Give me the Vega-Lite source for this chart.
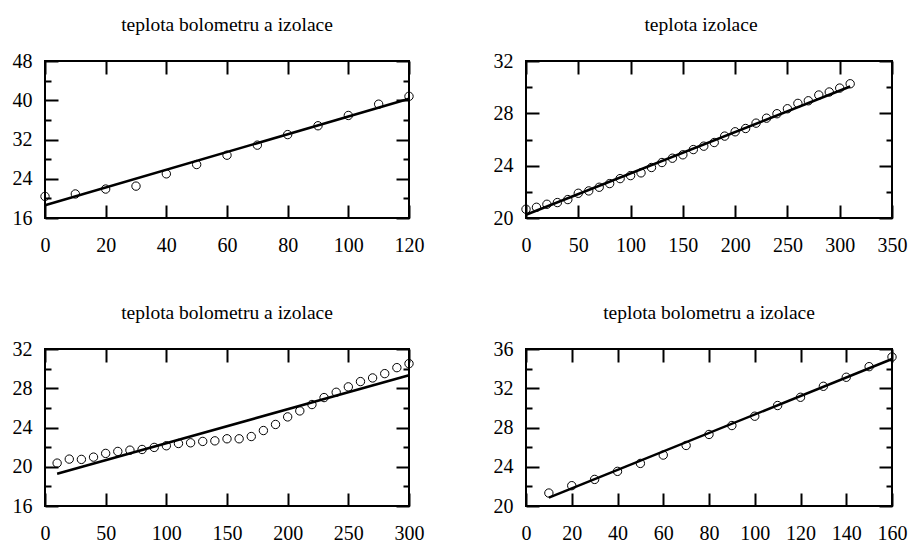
{
  "$schema": "https://vega.github.io/schema/vega-lite/v6.json",
  "background": "white",
  "padding": {"left": 11, "top": 13, "right": 5, "bottom": 5},
  "columns": 2,
  "spacing": {"row": 131, "column": 117},
  "bounds": "flush",
  "config": {
    "view": {"stroke": "black", "strokeWidth": 2},
    "font": "Liberation Serif, DejaVu Serif, serif",
    "title": {"font": "Liberation Serif, DejaVu Serif, serif", "fontSize": 19.5, "fontWeight": "normal", "color": "black", "baseline": "alphabetic", "offset": 16, "frame": "group", "anchor": "middle"},
    "axis": {"domain": false, "grid": false, "labelFont": "Liberation Serif, DejaVu Serif, serif", "labelFontSize": 20, "labelColor": "black", "tickColor": "black", "tickWidth": 2, "tickSize": 13, "offset": -13, "title": null, "labelFlush": false, "labelOverlap": false},
    "point": {"shape": "circle", "filled": false, "stroke": "black", "strokeWidth": 1, "size": 70, "opacity": 1},
    "line": {"color": "black", "strokeWidth": 2.5}
  },
  "concat": [
    {
      "width": 364, "height": 157,
      "title": {"text": "teplota bolometru a izolace"},
      "layer": [
        {
          "data": {"values": [
            {"x": 0, "y": 20.4}, {"x": 10, "y": 20.9}, {"x": 20, "y": 21.9}, {"x": 30, "y": 22.5},
            {"x": 40, "y": 25.0}, {"x": 50, "y": 26.9}, {"x": 60, "y": 28.8}, {"x": 70, "y": 30.85},
            {"x": 80, "y": 33.0}, {"x": 90, "y": 34.8}, {"x": 100, "y": 36.9}, {"x": 110, "y": 39.2},
            {"x": 120, "y": 40.8}
          ]},
          "mark": {"type": "point"},
          "encoding": {
            "x": {"field": "x", "type": "quantitative", "scale": {"domain": [0, 120], "nice": false, "zero": false},
                  "axis": {"orient": "bottom", "values": [0, 20, 40, 60, 80, 100, 120], "labelPadding": 17}},
            "y": {"field": "y", "type": "quantitative", "scale": {"domain": [16, 48], "nice": false, "zero": false},
                  "axis": {"orient": "left", "values": [16, 20, 24, 28, 32, 36, 40, 44, 48], "labelExpr": "datum.value % 8 === 0 ? datum.label : ''",
                           "tickDash": {"condition": {"test": "datum.value % 8 === 0", "value": []}, "value": [0, 7, 6, 0]}, "labelPadding": 13}}
          }
        },
        {
          "data": {"values": [{"x": 0, "y": 18.6}, {"x": 120, "y": 40.3}]},
          "mark": {"type": "line"},
          "encoding": {
            "x": {"field": "x", "type": "quantitative", "scale": {"domain": [0, 120], "nice": false, "zero": false},
                  "axis": {"orient": "top", "labels": false, "values": [0, 20, 40, 60, 80, 100, 120]}},
            "y": {"field": "y", "type": "quantitative", "scale": {"domain": [16, 48], "nice": false, "zero": false},
                  "axis": {"orient": "right", "labels": false, "values": [16, 20, 24, 28, 32, 36, 40, 44, 48],
                           "tickDash": {"condition": {"test": "datum.value % 8 === 0", "value": []}, "value": [0, 7, 6, 0]}}}
          }
        }
      ],
      "resolve": {"axis": {"x": "independent", "y": "independent"}}
    },
    {
      "width": 366, "height": 157,
      "title": {"text": "teplota izolace", "dx": -8},
      "layer": [
        {
          "data": {"values": [
            {"x": 0, "y": 20.67}, {"x": 10, "y": 20.82}, {"x": 20, "y": 21.05}, {"x": 30, "y": 21.18},
            {"x": 40, "y": 21.41}, {"x": 50, "y": 21.89}, {"x": 60, "y": 22.07}, {"x": 70, "y": 22.35},
            {"x": 80, "y": 22.63}, {"x": 90, "y": 23.01}, {"x": 100, "y": 23.24}, {"x": 110, "y": 23.45},
            {"x": 120, "y": 23.86}, {"x": 130, "y": 24.24}, {"x": 140, "y": 24.57}, {"x": 150, "y": 24.83},
            {"x": 160, "y": 25.23}, {"x": 170, "y": 25.49}, {"x": 180, "y": 25.77}, {"x": 190, "y": 26.26},
            {"x": 200, "y": 26.59}, {"x": 210, "y": 26.84}, {"x": 220, "y": 27.25}, {"x": 230, "y": 27.63},
            {"x": 240, "y": 27.97}, {"x": 250, "y": 28.35}, {"x": 260, "y": 28.76}, {"x": 270, "y": 28.96},
            {"x": 280, "y": 29.4}, {"x": 290, "y": 29.63}, {"x": 300, "y": 29.93}, {"x": 310, "y": 30.26}
          ]},
          "mark": {"type": "point"},
          "encoding": {
            "x": {"field": "x", "type": "quantitative", "scale": {"domain": [0, 350], "nice": false, "zero": false},
                  "axis": {"orient": "bottom", "values": [0, 50, 100, 150, 200, 250, 300, 350], "labelPadding": 17}},
            "y": {"field": "y", "type": "quantitative", "scale": {"domain": [20, 32], "nice": false, "zero": false},
                  "axis": {"orient": "left", "values": [20, 22, 24, 26, 28, 30, 32], "labelExpr": "datum.value % 4 === 0 ? datum.label : ''",
                           "tickDash": {"condition": {"test": "datum.value % 4 === 0", "value": []}, "value": [0, 7, 6, 0]}, "labelPadding": 13}}
          }
        },
        {
          "data": {"values": [{"x": 0, "y": 20.25}, {"x": 310, "y": 30.05}]},
          "mark": {"type": "line"},
          "encoding": {
            "x": {"field": "x", "type": "quantitative", "scale": {"domain": [0, 350], "nice": false, "zero": false},
                  "axis": {"orient": "top", "labels": false, "values": [0, 50, 100, 150, 200, 250, 300, 350]}},
            "y": {"field": "y", "type": "quantitative", "scale": {"domain": [20, 32], "nice": false, "zero": false},
                  "axis": {"orient": "right", "labels": false, "values": [20, 22, 24, 26, 28, 30, 32],
                           "tickDash": {"condition": {"test": "datum.value % 4 === 0", "value": []}, "value": [0, 7, 6, 0]}}}
          }
        }
      ],
      "resolve": {"axis": {"x": "independent", "y": "independent"}}
    },
    {
      "width": 364, "height": 157,
      "title": {"text": "teplota bolometru a izolace"},
      "layer": [
        {
          "data": {"values": [
            {"x": 10, "y": 20.37}, {"x": 20, "y": 20.78}, {"x": 30, "y": 20.75}, {"x": 40, "y": 20.98},
            {"x": 50, "y": 21.36}, {"x": 60, "y": 21.56}, {"x": 70, "y": 21.69}, {"x": 80, "y": 21.76},
            {"x": 90, "y": 21.97}, {"x": 100, "y": 22.14}, {"x": 110, "y": 22.37}, {"x": 120, "y": 22.44},
            {"x": 130, "y": 22.58}, {"x": 140, "y": 22.64}, {"x": 150, "y": 22.85}, {"x": 160, "y": 22.85},
            {"x": 170, "y": 23.08}, {"x": 180, "y": 23.69}, {"x": 190, "y": 24.31}, {"x": 200, "y": 25.08},
            {"x": 210, "y": 25.69}, {"x": 220, "y": 26.34}, {"x": 230, "y": 27.05}, {"x": 240, "y": 27.59},
            {"x": 250, "y": 28.14}, {"x": 260, "y": 28.68}, {"x": 270, "y": 29.05}, {"x": 280, "y": 29.49},
            {"x": 290, "y": 30.1}, {"x": 300, "y": 30.51}
          ]},
          "mark": {"type": "point"},
          "encoding": {
            "x": {"field": "x", "type": "quantitative", "scale": {"domain": [0, 300], "nice": false, "zero": false},
                  "axis": {"orient": "bottom", "values": [0, 50, 100, 150, 200, 250, 300], "labelPadding": 17}},
            "y": {"field": "y", "type": "quantitative", "scale": {"domain": [16, 32], "nice": false, "zero": false},
                  "axis": {"orient": "left", "values": [16, 18, 20, 22, 24, 26, 28, 30, 32], "labelExpr": "datum.value % 4 === 0 ? datum.label : ''",
                           "tickDash": {"condition": {"test": "datum.value % 4 === 0", "value": []}, "value": [0, 7, 6, 0]}, "labelPadding": 13}}
          }
        },
        {
          "data": {"values": [{"x": 10, "y": 19.29}, {"x": 300, "y": 29.32}]},
          "mark": {"type": "line"},
          "encoding": {
            "x": {"field": "x", "type": "quantitative", "scale": {"domain": [0, 300], "nice": false, "zero": false},
                  "axis": {"orient": "top", "labels": false, "values": [0, 50, 100, 150, 200, 250, 300]}},
            "y": {"field": "y", "type": "quantitative", "scale": {"domain": [16, 32], "nice": false, "zero": false},
                  "axis": {"orient": "right", "labels": false, "values": [16, 18, 20, 22, 24, 26, 28, 30, 32],
                           "tickDash": {"condition": {"test": "datum.value % 4 === 0", "value": []}, "value": [0, 7, 6, 0]}}}
          }
        }
      ],
      "resolve": {"axis": {"x": "independent", "y": "independent"}}
    },
    {
      "width": 366, "height": 157,
      "title": {"text": "teplota bolometru a izolace"},
      "layer": [
        {
          "data": {"values": [
            {"x": 10, "y": 21.32}, {"x": 20, "y": 22.07}, {"x": 30, "y": 22.71}, {"x": 40, "y": 23.53},
            {"x": 50, "y": 24.34}, {"x": 60, "y": 25.19}, {"x": 70, "y": 26.17}, {"x": 80, "y": 27.29},
            {"x": 90, "y": 28.2}, {"x": 100, "y": 29.15}, {"x": 110, "y": 30.24}, {"x": 120, "y": 31.08},
            {"x": 130, "y": 32.2}, {"x": 140, "y": 33.12}, {"x": 150, "y": 34.2}, {"x": 160, "y": 35.19}
          ]},
          "mark": {"type": "point"},
          "encoding": {
            "x": {"field": "x", "type": "quantitative", "scale": {"domain": [0, 160], "nice": false, "zero": false},
                  "axis": {"orient": "bottom", "values": [0, 20, 40, 60, 80, 100, 120, 140, 160], "labelPadding": 17}},
            "y": {"field": "y", "type": "quantitative", "scale": {"domain": [20, 36], "nice": false, "zero": false},
                  "axis": {"orient": "left", "values": [20, 22, 24, 26, 28, 30, 32, 34, 36], "labelExpr": "datum.value % 4 === 0 ? datum.label : ''",
                           "tickDash": {"condition": {"test": "datum.value % 4 === 0", "value": []}, "value": [0, 7, 6, 0]}, "labelPadding": 13}}
          }
        },
        {
          "data": {"values": [{"x": 10, "y": 20.85}, {"x": 160, "y": 34.98}]},
          "mark": {"type": "line"},
          "encoding": {
            "x": {"field": "x", "type": "quantitative", "scale": {"domain": [0, 160], "nice": false, "zero": false},
                  "axis": {"orient": "top", "labels": false, "values": [0, 20, 40, 60, 80, 100, 120, 140, 160]}},
            "y": {"field": "y", "type": "quantitative", "scale": {"domain": [20, 36], "nice": false, "zero": false},
                  "axis": {"orient": "right", "labels": false, "values": [20, 22, 24, 26, 28, 30, 32, 34, 36],
                           "tickDash": {"condition": {"test": "datum.value % 4 === 0", "value": []}, "value": [0, 7, 6, 0]}}}
          }
        }
      ],
      "resolve": {"axis": {"x": "independent", "y": "independent"}}
    }
  ]
}
